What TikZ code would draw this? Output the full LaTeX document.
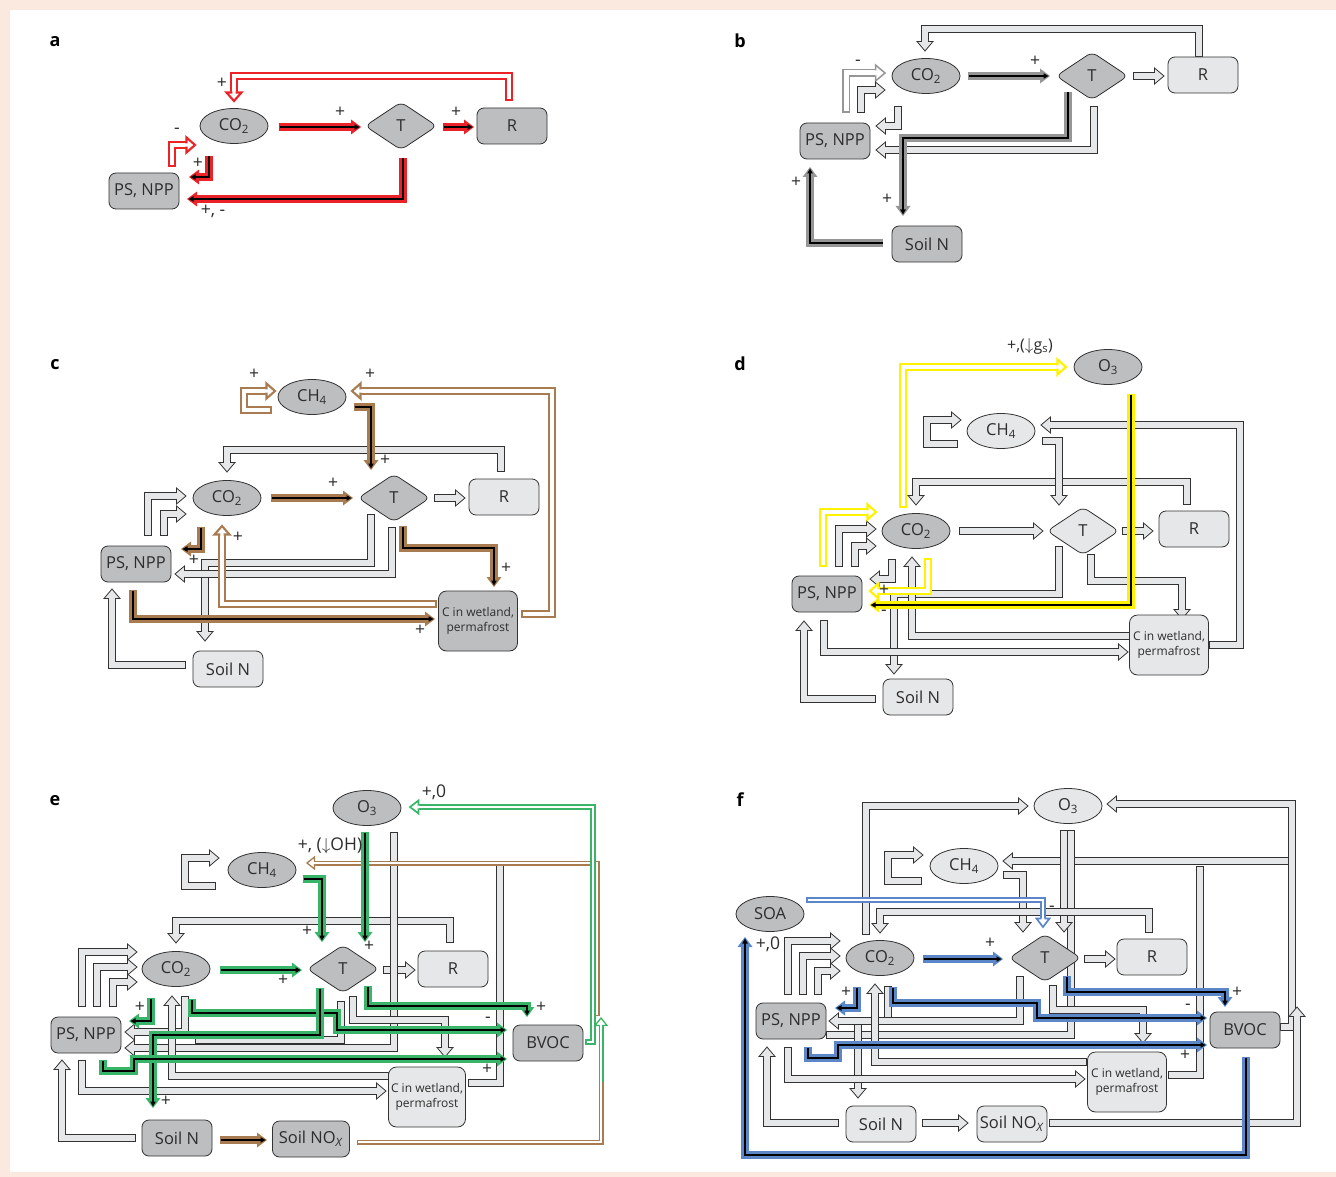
\documentclass[tikz,border=0pt]{standalone}
\usepackage{fontspec}
\setmainfont{Open Sans}
\usetikzlibrary{shapes.geometric,decorations.markings}
\definecolor{pinkbg}{RGB}{251,233,224}
\definecolor{nodeg}{RGB}{188,190,192}
\definecolor{nodel}{RGB}{230,231,232}
\definecolor{edge}{RGB}{50,50,50}
\definecolor{txt}{RGB}{45,45,45}
\definecolor{redA}{RGB}{235,35,40}
\definecolor{brownC}{RGB}{168,124,80}
\definecolor{yellD}{RGB}{255,242,0}
\definecolor{greenE}{RGB}{57,181,106}
\definecolor{blueF}{RGB}{91,134,200}
\definecolor{grayB}{RGB}{150,150,150}
\pgfdeclarelayer{back}\pgfdeclarelayer{bg}\pgfsetlayers{back,bg,main}
\tikzset{
 hol/.style n args={6}{draw=#1, line width=#3, line join=miter, line cap=butt, shorten >=#6-1pt,
   postaction={draw=#2, line width=#4, shorten <=0.5*#3-0.5*#4},
   postaction={decorate, decoration={markings, mark=at position 1 with {
     \fill[#2, shorten >=0pt, shorten <=0pt] (0pt,0pt) -- (-#6,#5) -- (-#6,-#5) -- cycle;
     \draw[#1, line width=0.5*#3-0.5*#4, line join=miter, shorten >=0pt, shorten <=0pt]
       (-#6+0.5pt,0.5*#4) -- (-#6+0.5pt,#5) -- (0pt,0pt) -- (-#6+0.5pt,-#5) -- (-#6+0.5pt,-0.5*#4);}}}},
 holo/.style n args={6}{draw=#1, line width=#3, line join=miter, line cap=butt, shorten >=#6-1pt,
   postaction={draw=#2, line width=#4, shorten <=0pt},
   postaction={decorate, decoration={markings, mark=at position 1 with {
     \fill[#2, shorten >=0pt, shorten <=0pt] (0pt,0pt) -- (-#6,#5) -- (-#6,-#5) -- cycle;
     \draw[#1, line width=0.5*#3-0.5*#4, line join=miter, shorten >=0pt, shorten <=0pt]
       (-#6+0.5pt,0.5*#4) -- (-#6+0.5pt,#5) -- (0pt,0pt) -- (-#6+0.5pt,-#5) -- (-#6+0.5pt,-0.5*#4);}}}},
 bnd/.style n args={4}{draw=#1, line width=#3, line join=miter, line cap=butt,
   postaction={draw=#2, line width=#4, shorten <=0.5*#3-0.5*#4, shorten >=0.5*#3-0.5*#4}},
 sol/.style n args={4}{draw=#1, line width=#2, line join=miter, line cap=butt, shorten >=9pt,
   postaction={draw=black, line width=#3, shorten <=0.5pt},
   postaction={decorate, decoration={markings, mark=at position 1 with {
     \fill[#1, shorten >=0pt, shorten <=0pt] (0pt,0pt) -- (-10pt,#4) -- (-10pt,-#4) -- cycle;
     \draw[black, line width=#3, shorten >=0pt, shorten <=0pt] (-10.5pt,0pt) -- (-5pt,0pt);
     \fill[black, shorten >=0pt, shorten <=0pt] (-1.5pt,0pt) -- (-6.5pt,2.8pt) -- (-6.5pt,-2.8pt) -- cycle;}}}},
 lh/.style={hol={edge}{nodel}{8pt}{6.4pt}{8pt}{10pt}},
 lb/.style={bnd={edge}{nodel}{8pt}{6.4pt}},
 ch/.style={hol={#1}{white}{7.6pt}{3.4pt}{7.5pt}{9pt}},
 cs/.style={sol={#1}{8pt}{2.5pt}{7.5pt}},
 th/.style={hol={#1}{white}{5pt}{2.4pt}{6pt}{8pt}},
 tho/.style={holo={#1}{white}{5pt}{2.4pt}{6pt}{8pt}},
 tb/.style={bnd={#1}{white}{5pt}{2.4pt}},
 nd/.style={draw=edge, line width=0.8pt, text=txt, font=\fontsize{16.5}{18}\selectfont, inner sep=0pt},
 gn/.style={nd, fill=nodeg},
 ln/.style={nd, fill=nodel},
 ell/.style={ellipse, minimum width=68pt, minimum height=35pt},
 box/.style={rectangle, rounded corners=7pt, minimum width=70pt, minimum height=36pt},
 wbox/.style={rectangle, rounded corners=8pt, minimum width=79pt, minimum height=60pt, align=center, font=\fontsize{12}{14.5}\selectfont},
 dia/.style={diamond, aspect=1.5, minimum width=72pt, minimum height=48pt, rounded corners=6pt},
 lab/.style={font=\fontsize{17.5}{17.5}\selectfont, text=txt, inner sep=0pt},
 plab/.style={font=\fontsize{18}{18}\bfseries\selectfont, text=black, inner sep=0pt}
}
\begin{document}
\begin{tikzpicture}[x=1pt,y=-1pt]
\useasboundingbox (0,0) rectangle (1336,1177);
\begin{pgfonlayer}{back}
\fill[pinkbg] (0,0) rectangle (1336,1177);
\fill[white] (10,10) rectangle (1336,1172);
\end{pgfonlayer}

% ================= panel a
\node[plab] (la) at (55,42) {a};
\node[gn,ell] (co2A) at (234,126) {CO\textsubscript{2}};
\node[gn,dia] (tA) at (401,126) {T};
\node[gn,box] (rA) at (512,126) {R};
\node[gn,box] (psA) at (144,191) {PS, NPP};
\begin{pgfonlayer}{bg}
\draw[ch=redA] (509,101) -- (509,76) -- (234,76) -- (234,101);
\draw[ch=redA] (172,167) -- (172,145) -- (195,145);
\draw[cs=redA] (279,127) -- (361,127);
\draw[cs=redA] (443,127) -- (474,127);
\draw[cs=redA] (403,158) -- (403,199) -- (187,199);
\draw[cs=redA] (209,156) -- (209,177) -- (189,177);
\end{pgfonlayer}
\node[lab] at (222,83) {+};
\node[lab] at (340,112) {+};
\node[lab] at (456,112) {+};
\node[lab] at (213,211) {+, -};
\node[lab] at (198,163) {+};
\node[lab] at (177,131) {-};

% ================= panel b
\node[plab] (lb) at (740,41) {b};
\node[gn,ell] (co2B) at (926,76) {CO\textsubscript{2}};
\node[gn,dia] (tB) at (1092,76) {T};
\node[ln,box] (rB) at (1203,75) {R};
\node[gn,box] (psB) at (835,141) {PS, NPP};
\node[gn,box] (soilB) at (927,244) {Soil N};
\begin{pgfonlayer}{bg}
\draw[lh] (1199,57) -- (1199,29) -- (925,29) -- (925,51);
\draw[lh] (1133,76) -- (1164,76);
\draw[hol={grayB}{white}{8pt}{5pt}{8pt}{10pt}] (846,113) -- (846,73) -- (885,73);
\draw[lh] (861,113) -- (861,90) -- (885,90);
\draw[lh] (898,106) -- (898,126) -- (876,126);
\draw[lh] (1094,106) -- (1094,150) -- (876,150);
\draw[cs=grayB] (968,76) -- (1050,76);
\draw[cs=grayB] (1068,92) -- (1068,138) -- (903,138) -- (903,216);
\draw[cs=grayB] (883,243) -- (810,243) -- (810,167);
\end{pgfonlayer}
\node[lab] at (858,63) {-};
\node[lab] at (1035,61) {+};
\node[lab] at (887,199) {+};
\node[lab] at (796,182) {+};

% ================= panel c
\node[plab] (lc) at (55,365) {c};
\node[gn,ell] (ch4C) at (312,397) {CH\textsubscript{4}};
\node[gn,ell] (co2C) at (227,498) {CO\textsubscript{2}};
\node[gn,dia] (tC) at (394,498) {T};
\node[ln,box] (rC) at (504,497) {R};
\node[gn,box] (psC) at (136,564) {PS, NPP};
\node[ln,box] (soilC) at (228,669) {Soil N};
\node[gn,wbox] (wetC) at (478,621) {C in wetland,\\permafrost};
\begin{pgfonlayer}{bg}
\draw[lh] (501,472) -- (501,450) -- (227,450) -- (227,472);
\draw[lh] (434,498) -- (465,498);
\draw[lh] (148,536) -- (148,496) -- (186,496);
\draw[lh] (164,536) -- (164,514) -- (186,514);
\draw[lh] (371,514) -- (371,563) -- (205,563) -- (205,641);
\draw[lh] (392,527) -- (392,574) -- (175,574);
\draw[lh] (186,665) -- (112,665) -- (112,589);
\draw[ch=brownC] (272,410) -- (244,410) -- (244,391) -- (275,391);
\draw[ch=brownC] (521,614) -- (552,614) -- (552,391) -- (352,391);
\draw[ch=brownC] (437,604) -- (222,604) -- (222,526);
\draw[cs=brownC] (354,407) -- (371,407) -- (371,470);
\draw[cs=brownC] (271,498) -- (353,498);
\draw[cs=brownC] (201,527) -- (201,549) -- (181,549);
\draw[cs=brownC] (403,526) -- (403,548) -- (494,548) -- (494,587);
\draw[cs=brownC] (133,590) -- (133,619) -- (435,619);
\end{pgfonlayer}
\node[lab] at (254,374) {+};
\node[lab] at (370,374) {+};
\node[lab] at (385,460) {+};
\node[lab] at (333,483) {+};
\node[lab] at (194,560) {+};
\node[lab] at (238,537) {+};
\node[lab] at (506,568) {+};
\node[lab] at (420,630) {+};

% ================= panel d
\node[plab] (ld) at (740,364) {d};
\node[gn,ell] (o3D) at (1108,367) {O\textsubscript{3}};
\node[ln,ell] (ch4D) at (1001,431) {CH\textsubscript{4}};
\node[gn,ell] (co2D) at (916,531) {CO\textsubscript{2}};
\node[ln,dia] (tD) at (1083,531) {T};
\node[ln,box] (rD) at (1194,529) {R};
\node[gn,box] (psD) at (827,594) {PS, NPP};
\node[ln,box] (soilD) at (918,697) {Soil N};
\node[ln,wbox] (wetD) at (1169,645) {C in wetland,\\permafrost};
\begin{pgfonlayer}{bg}
\draw[lh] (958,444) -- (927,444) -- (927,420) -- (961,420);
\draw[lh] (1209,645) -- (1240,645) -- (1240,425) -- (1041,425);
\draw[lh] (1187,505) -- (1187,482) -- (916,482) -- (916,505);
\draw[lh] (1042,441) -- (1059,441) -- (1059,505);
\draw[lh] (959,531) -- (1043,531);
\draw[lh] (1122,531) -- (1153,531);
\draw[lh] (839,567) -- (839,529) -- (876,529);
\draw[lh] (855,567) -- (855,546) -- (876,546);
\draw[lh] (892,559) -- (892,579) -- (870,579);
\draw[lh] (1059,546) -- (1059,594) -- (894,594) -- (894,674);
\draw[lh] (1091,554) -- (1091,581) -- (1182,581) -- (1182,619);
\draw[lh] (1130,636) -- (912,636) -- (912,557);
\draw[lh] (824,620) -- (824,652) -- (1128,652);
\draw[lh] (876,699) -- (804,699) -- (804,621);
\draw[ch=yellD] (903,508) -- (903,367) -- (1066,367);
\draw[ch=yellD] (823,567) -- (823,512) -- (876,512);
\draw[ch=yellD] (928,558) -- (928,591) -- (870,591);
\draw[cs=yellD] (1131,394) -- (1131,605) -- (869,605);
\end{pgfonlayer}
\node[lab, font=\fontsize{16}{16}\selectfont] at (1030,346) {+,($\downarrow$g\textsubscript{s})};
\node[lab] at (884,590) {+};
\node[lab] at (884,613) {-};

% ================= panel e
\node[plab] (le) at (55,801) {e};
\node[gn,ell] (o3E) at (367,808) {O\textsubscript{3}};
\node[gn,ell] (ch4E) at (262,870) {CH\textsubscript{4}};
\node[gn,ell] (co2E) at (176,969) {CO\textsubscript{2}};
\node[gn,dia] (tE) at (343,969) {T};
\node[ln,box] (rE) at (453,969) {R};
\node[gn,box] (psE) at (86,1035) {PS, NPP};
\node[gn,box] (soilE) at (177,1138) {Soil N};
\node[gn,box, minimum width=77pt] (noxE) at (311,1139) {Soil NO\textsubscript{\textit{X}}};
\node[gn,box] (bvocE) at (548,1043) {BVOC};
\node[ln,wbox, minimum width=77pt] (wetE) at (427,1097) {C in wetland,\\permafrost};
\begin{pgfonlayer}{bg}
\draw[lh] (216,886) -- (185,886) -- (185,858) -- (219,858);
\draw[lh] (450,943) -- (450,921) -- (176,921) -- (176,943);
\draw[lh] (383,970) -- (415,970);
\draw[lh] (82,1007) -- (82,952) -- (137,952);
\draw[lh] (97,1007) -- (97,967) -- (137,967);
\draw[lh] (113,1007) -- (113,982) -- (137,982);
\draw[lb] (341,1001) -- (341,1040) -- (195,1040);
\draw[lh] (185,996) -- (185,1032) -- (125,1032);
\draw[lh] (394,832) -- (394,1048) -- (125,1048);
\draw[lh] (389,1076) -- (172,1076) -- (172,996);
\draw[lh] (353,996) -- (353,1020) -- (445,1020) -- (445,1057);
\draw[lh] (82,1060) -- (82,1091) -- (386,1091);
\draw[lh] (136,1138) -- (62,1138) -- (62,1060);
\draw[lb] (468,1083) -- (500,1083) -- (500,864);
\draw[tb=brownC] (357,1142) -- (601,1142) -- (601,1080);
\draw[tho=greenE] (601,1082) -- (601,1018);
\draw[th=brownC] (597,1016) -- (597,863) -- (307,863);
\draw[hol={greenE}{white}{6pt}{2.6pt}{6.5pt}{9pt}] (585,1042) -- (593,1042) -- (593,807) -- (410,807);
\draw[cs=greenE] (303,879) -- (322,879) -- (322,942);
\draw[cs=greenE] (365,832) -- (365,942);
\draw[cs=greenE] (220,970) -- (302,970);
\draw[cs=greenE] (151,998) -- (151,1021) -- (129,1021);
\draw[cs=greenE] (192,999) -- (192,1013) -- (337,1013) -- (337,1030) -- (507,1030);
\draw[cs=greenE] (320,988) -- (320,1035) -- (153,1035) -- (153,1108);
\draw[cs=greenE] (368,986) -- (368,1006) -- (527,1006) -- (527,1017);
\draw[cs=greenE] (103,1060) -- (103,1071) -- (134,1071) -- (134,1059) -- (507,1059);
\draw[cs=brownC] (220,1140) -- (267,1140);
\end{pgfonlayer}
\node[lab] at (434,792) {+,0};
\node[lab] at (330,846) {+, ($\downarrow$OH)};
\node[lab] at (307,931) {+};
\node[lab] at (369,946) {+};
\node[lab] at (283,980) {+};
\node[lab] at (140,1007) {+};
\node[lab] at (166,1101) {+};
\node[lab] at (541,1007) {+};
\node[lab] at (488,1020) {-};
\node[lab] at (487,1069) {+};

% ================= panel f
\node[plab] (lf) at (740,800) {f};
\node[gn,ell] (soaF) at (770,914) {SOA};
\node[ln,ell] (ch4F) at (964,866) {CH\textsubscript{4}};
\node[ln,ell] (o3F) at (1068,806) {O\textsubscript{3}};
\node[gn,ell] (co2F) at (880,958) {CO\textsubscript{2}};
\node[gn,dia] (tF) at (1045,958) {T};
\node[ln,box] (rF) at (1152,957) {R};
\node[gn,box] (bvocF) at (1245,1030) {BVOC};
\node[ln,wbox] (wetF) at (1127,1082) {C in wetland,\\permafrost};
\node[gn,box] (psF) at (791,1021) {PS, NPP};
\node[ln,box] (soilF) at (881,1124) {Soil N};
\node[ln,box] (noxF) at (1012,1124) {Soil NO\textsubscript{\textit{X}}};
\begin{pgfonlayer}{bg}
\draw[lb] (1168,1075) -- (1200,1075) -- (1200,866);
\draw[lh] (1290,861) -- (1003,861);
\draw[lh] (1280,1027) -- (1292,1027) -- (1292,804) -- (1107,804);
\draw[lh] (1049,1123) -- (1297,1123) -- (1297,1007);
\draw[lh] (866,935) -- (866,806) -- (1028,806);
\draw[lh] (922,881) -- (888,881) -- (888,855) -- (923,855);
\draw[lh] (1003,875) -- (1023,875) -- (1023,932);
\draw[lb] (1071,830) -- (1071,1035) -- (826,1035);
\draw[lh] (1064,830) -- (1064,932);
\draw[lh] (1149,933) -- (1149,912) -- (880,912) -- (880,933);
\draw[lh] (1084,959) -- (1115,959);
\draw[lh] (788,995) -- (788,941) -- (840,941);
\draw[lh] (803,995) -- (803,956) -- (840,956);
\draw[lh] (818,995) -- (818,971) -- (840,971);
\draw[lh] (858,1018) -- (858,1098);
\draw[lb] (888,986) -- (888,1021);
\draw[lh] (1020,976) -- (1020,1021) -- (829,1021);
\draw[lh] (1053,985) -- (1053,1010) -- (1143,1010) -- (1143,1043);
\draw[lh] (1087,1062) -- (875,1062) -- (875,984);
\draw[lh] (788,1047) -- (788,1079) -- (1085,1079);
\draw[lh] (839,1123) -- (767,1123) -- (767,1047);
\draw[lh] (922,1123) -- (968,1123);
\draw[hol={blueF}{white}{6pt}{2.6pt}{6.5pt}{9pt}] (806,900) -- (1043,900) -- (1043,927);
\draw[cs=blueF] (923,959) -- (1003,959);
\draw[cs=blueF] (1246,1057) -- (1246,1155) -- (745,1155) -- (745,937);
\draw[cs=blueF] (857,987) -- (857,1008) -- (835,1008);
\draw[cs=blueF] (893,987) -- (893,1003) -- (1037,1003) -- (1037,1018) -- (1207,1018);
\draw[cs=blueF] (1067,976) -- (1067,992) -- (1225,992) -- (1225,1007);
\draw[cs=blueF] (808,1047) -- (808,1058) -- (838,1058) -- (838,1045) -- (1207,1045);
\end{pgfonlayer}
\node[lab] at (990,943) {+};
\node[lab] at (846,992) {+};
\node[lab] at (1052,909) {-};
\node[lab] at (1237,992) {+};
\node[lab] at (1188,1007) {-};
\node[lab] at (1185,1055) {+};
\node[lab] at (768,944) {+,0};
\end{tikzpicture}
\end{document}
